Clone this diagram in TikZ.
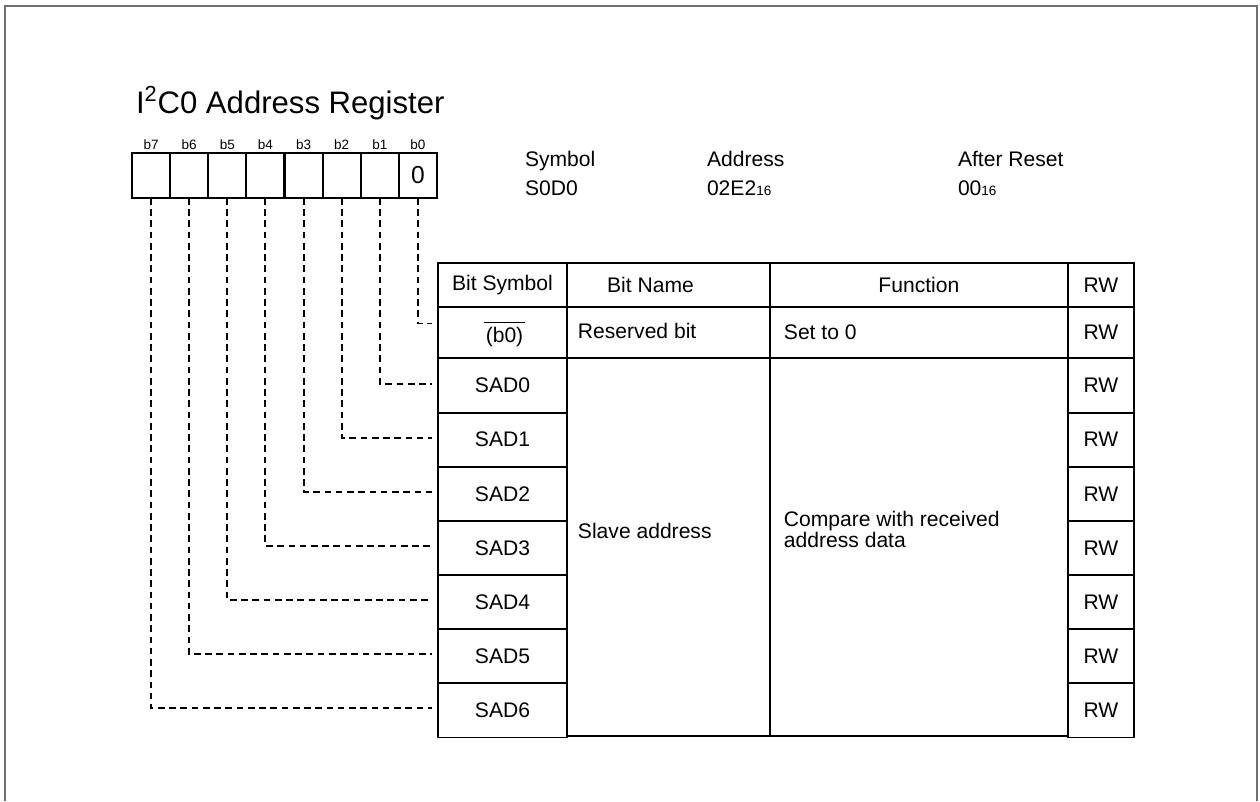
\documentclass[tikz,border=0pt]{standalone}
\usepackage{fontspec}
\setmainfont{Liberation Sans}
\usepackage{xcolor}
\definecolor{FrameGray}{HTML}{707070}
\definecolor{LineInk}{HTML}{000000}
\usepackage{tikz}
\usetikzlibrary{positioning, calc}
\newcommand{\regfont}[1]{\fontsize{#1}{#1}\selectfont}
\newcommand{\barbit}[1]{\setbox0\hbox{#1}\rlap{\kern-1.2pt\raisebox{11.2pt}{\rule{\dimexpr\wd0+2.4pt\relax}{0.7pt}}}\box0}

\begin{document}
\begin{tikzpicture}[
    x=0.02cm, y=-0.02cm,
    every node/.style={inner sep=0pt, outer sep=0pt},
    bitcell/.style={draw=LineInk, line width=1.2pt, minimum width=0.7625cm, minimum height=0.9cm, font=\regfont{14}},
    bitlab/.style={font=\regfont{7.7}},
    cell/.style={draw=LineInk, line width=1.1pt, font=\regfont{12}},
    hdcell/.style={cell, minimum height=0.88cm},
    resvcell/.style={cell, minimum height=1.02cm},
    rowcell/.style={cell, minimum height=1.0828cm},
    txt/.style={font=\regfont{12}, align=left},
    info/.style={font=\regfont{12}, anchor=base west},
    link/.style={line width=1.1pt, dash pattern=on 3.8pt off 2.6pt}
]
\useasboundingbox (0,0) rectangle (1260,801);
\draw[FrameGray, line width=1.2pt] (5,801) |- (1257,6) -- (1257,801);

\node[anchor=base west, font=\regfont{17.7}] (title) at (136,113) {I\textsuperscript{2}C0 Address Register};

\foreach \i in {0,...,7}{
  \node[bitcell] (b\i) at ({151.06+38.125*(7-\i)},175.5) {\ifnum\i=0 0\fi};
  \node[bitlab, above=0.06cm of b\i] (lb\i) {b\i};
}

\node[info] (symh) at (525,166) {Symbol};
\node[info] (symv) at (525,195) {S0D0};
\node[info] (adrh) at (707,166) {Address};
\node[info] (adrv) at (707,195) {02E2{\regfont{7.7}16}};
\node[info] (rsth) at (958,166) {After Reset};
\node[info] (rstv) at (958,195) {00{\regfont{7.7}16}};

\node[hdcell, minimum width=2.58cm] (hsym) at (502.5,285) {Bit Symbol};
\node[hdcell, minimum width=4.06cm, right=0pt of hsym] (hname) {};
\node[hdcell, minimum width=5.96cm, right=0pt of hname] (hfunc) {Function};
\node[hdcell, minimum width=1.32cm, right=0pt of hfunc] (hrw) {RW};
\node[txt] (tname) at ($(hname.center)+(-18,0)$) {Bit Name};

\node[resvcell, minimum width=2.58cm, below=0pt of hsym] (rsym) {};
\node[txt] (tbit) at ($(rsym.center)+(2,2)$) {\barbit{(b0)}};
\node[resvcell, minimum width=4.06cm, right=0pt of rsym] (rname) {};
\node[resvcell, minimum width=5.96cm, right=0pt of rname] (rfunc) {};
\node[resvcell, minimum width=1.32cm, right=0pt of rfunc] (rrw) {RW};
\node[txt, anchor=west] (tresv) at ($(rname.west)+(11,-2)$) {Reserved bit};
\node[txt, anchor=west] (tset) at ($(rfunc.west)+(14,0)$) {Set to 0};

\foreach \k in {0,...,6}{
  \node[rowcell, minimum width=2.58cm] (sad\k) at (502.5,{358.5+54.14*(\k+0.5)}) {SAD\k};
  \node[rowcell, minimum width=1.32cm] (rw\k) at (1101,{358.5+54.14*(\k+0.5)}) {RW};
}
\node[cell, minimum width=4.06cm, minimum height=7.57cm, anchor=north west] (sname) at (rname.south west) {};
\node[cell, minimum width=5.96cm, minimum height=7.57cm, anchor=north west] (sfunc) at (rfunc.south west) {};
\node[txt, anchor=west] (tslave) at ($(sname.west)+(11,-16)$) {Slave address};
\node[txt, anchor=west] (tcomp) at ($(sfunc.west)+(14,-18)$) {Compare with received\\address data};

\draw[link] (b0.south) |- ([shift={(-6,-9)}]rsym.west);
\foreach \k [count=\n] in {0,...,6}
  \draw[link] (b\n.south) |- ([shift={(-6,-2)}]sad\k.west);
\end{tikzpicture}
\end{document}
